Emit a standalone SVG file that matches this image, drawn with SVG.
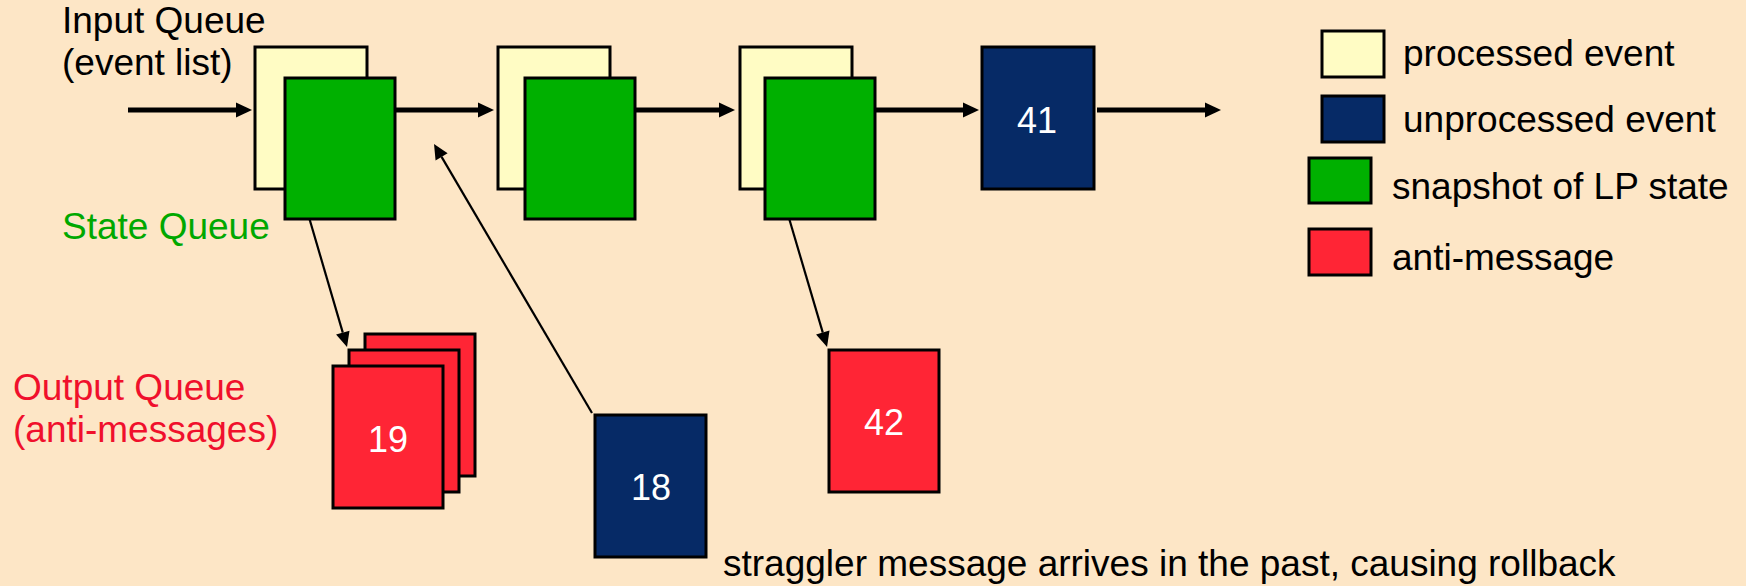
<svg xmlns="http://www.w3.org/2000/svg" width="1746" height="586" viewBox="0 0 1746 586">
  <defs>
    <style>
      .t { font-family: "Liberation Sans", Arial, sans-serif; font-size: 37px; fill: #000; }
      .num { font-family: "Liberation Sans", Arial, sans-serif; font-size: 36px; fill: #fff; text-anchor: middle; }
      .box { stroke: #000; stroke-width: 3; }
      .proc { fill: #fffcc4; }
      .unproc { fill: #062a66; }
      .snap { fill: #00b000; }
      .anti { fill: #ff2535; }
      .thick { stroke: #000; stroke-width: 5; fill: none; }
      .thin { stroke: #000; stroke-width: 2.2; fill: none; }
    </style>
    <marker id="headThick" markerUnits="userSpaceOnUse" viewBox="0 0 16 16" markerWidth="16" markerHeight="16" refX="0" refY="8" orient="auto" overflow="visible">
      <path d="M0,0.5 L16,8 L0,15.5 z" fill="#000"/>
    </marker>
    <marker id="headThin" markerUnits="userSpaceOnUse" viewBox="0 0 16 16" markerWidth="16" markerHeight="16" refX="0" refY="8" orient="auto" overflow="visible">
      <path d="M0,1 L15,8 L0,15 z" fill="#000"/>
    </marker>
  </defs>
  <rect x="0" y="0" width="1746" height="586" fill="#fde6c6"/>

  <g id="labels">
    <text class="t" x="62" y="33">Input Queue</text>
    <text class="t" x="62" y="75">(event list)</text>
    <text class="t" x="62" y="239" style="fill:#00a800">State Queue</text>
    <text class="t" x="13" y="400" style="fill:#f0102c">Output Queue</text>
    <text class="t" x="13" y="442" style="fill:#f0102c">(anti-messages)</text>
    <text class="t" x="723" y="576">straggler message arrives in the past, causing rollback</text>
  </g>

  <g id="connectors">
    <line class="thick" x1="128" y1="110" x2="236" y2="110" marker-end="url(#headThick)"/>
    <line class="thick" x1="395" y1="110" x2="478" y2="110" marker-end="url(#headThick)"/>
    <line class="thick" x1="635" y1="110" x2="719" y2="110" marker-end="url(#headThick)"/>
    <line class="thick" x1="875" y1="110" x2="963" y2="110" marker-end="url(#headThick)"/>
    <line class="thick" x1="1097" y1="110" x2="1205" y2="110" marker-end="url(#headThick)"/>
    <line class="thin" x1="301" y1="190" x2="342.8" y2="332.6" marker-end="url(#headThin)"/>
    <line class="thin" x1="592" y1="413" x2="441.6" y2="156.9" marker-end="url(#headThin)"/>
    <line class="thin" x1="781" y1="191" x2="822.8" y2="332.6" marker-end="url(#headThin)"/>
  </g>

  <g id="event1">
    <rect class="box proc" x="255" y="47" width="112" height="142"/>
    <rect class="box snap" x="285" y="78" width="110" height="141"/>
  </g>
  <g id="event2">
    <rect class="box proc" x="498" y="47" width="112" height="142"/>
    <rect class="box snap" x="525" y="78" width="110" height="141"/>
  </g>
  <g id="event3">
    <rect class="box proc" x="740" y="47" width="112" height="142"/>
    <rect class="box snap" x="765" y="78" width="110" height="141"/>
  </g>
  <g id="event41">
    <rect class="box unproc" x="982" y="47" width="112" height="142"/>
    <text class="num" x="1037" y="133">41</text>
  </g>

  <g id="output-queue">
    <rect class="box anti" x="365" y="334" width="110" height="142"/>
    <rect class="box anti" x="349" y="350" width="110" height="142"/>
    <rect class="box anti" x="333" y="366" width="110" height="142"/>
    <text class="num" x="388" y="452">19</text>
  </g>

  <g id="straggler18">
    <rect class="box unproc" x="595" y="415" width="111" height="142"/>
    <text class="num" x="651" y="500">18</text>
  </g>

  <g id="anti42">
    <rect class="box anti" x="829" y="350" width="110" height="142"/>
    <text class="num" x="884" y="435">42</text>
  </g>

  <g id="legend">
    <rect class="box proc" x="1322" y="31" width="62" height="46"/>
    <text class="t" x="1403" y="66">processed event</text>
    <rect class="box unproc" x="1322" y="96" width="62" height="46"/>
    <text class="t" x="1403" y="132">unprocessed event</text>
    <rect class="box snap" x="1309" y="158" width="62" height="45"/>
    <text class="t" x="1392" y="199">snapshot of LP state</text>
    <rect class="box anti" x="1309" y="229" width="62" height="46"/>
    <text class="t" x="1392" y="270">anti-message</text>
  </g>
</svg>
